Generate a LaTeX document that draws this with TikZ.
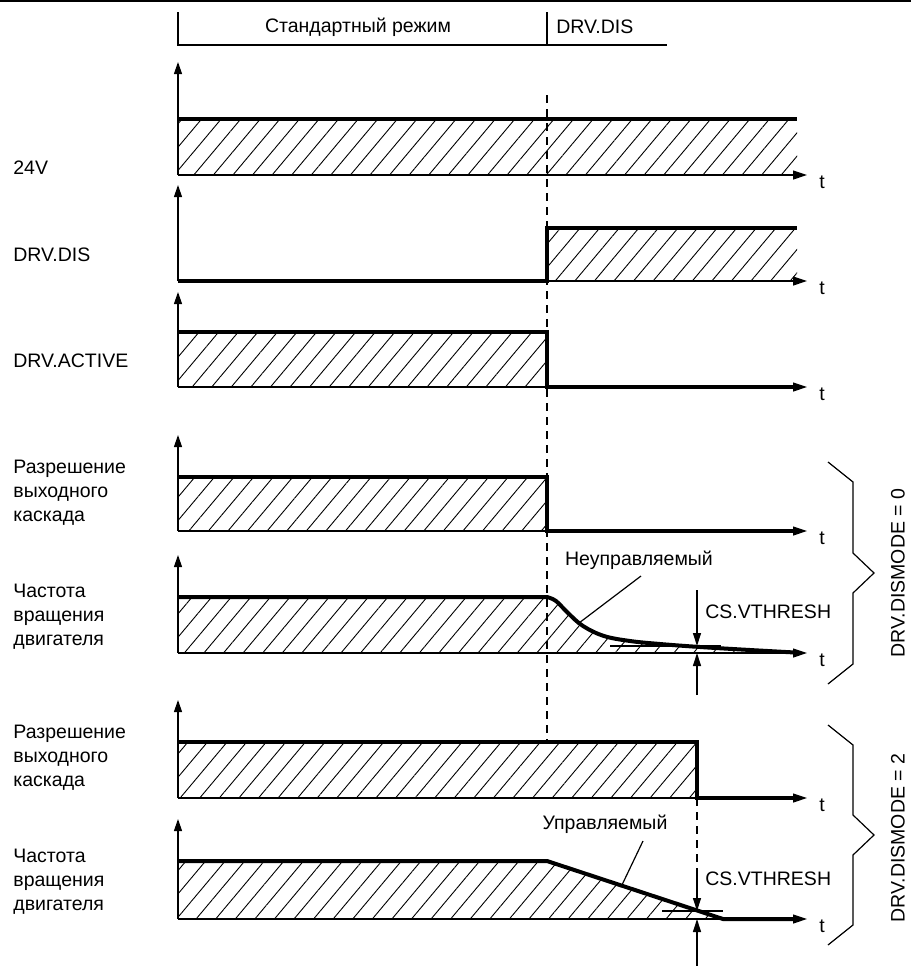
\documentclass[tikz,border=0pt]{standalone}
\usepackage{fontspec}
\setmainfont{Liberation Sans}
\usetikzlibrary{arrows.meta,patterns.meta}
\tikzset{
  lbl/.style={font=\fontsize{9.75}{12}\selectfont,inner sep=0pt,align=left},
  sig/.style={line width=2pt},
  rule/.style={line width=0.6pt},
  yaxis/.style={line width=0.6pt,-{Triangle[length=6pt,width=4pt]}},
  taxis/.style={line width=0.6pt,-{Triangle[length=7pt,width=4.5pt]}},
  vth/.style={line width=0.6pt,-{Triangle[length=6.5pt,width=4pt]}},
  hatch/.style={pattern={Lines[angle=50,distance=7.5pt,line width=0.45pt]}},
  guide/.style={line width=0.6pt,dash pattern=on 4pt off 3pt},
  brace/.style={line width=0.6pt}
}
\begin{document}
\begin{tikzpicture}[x=0.5pt,y=-0.5pt]
\useasboundingbox (0,0) rectangle (911,966);
\draw[line width=1pt] (0,1) -- (911,1);
\draw[rule] (178,12) -- (178,45) -- (667,45);
\draw[rule] (547,12) -- (547,45);
\node[lbl] (mode) at (358,27) {Стандартный режим};
\node[lbl,anchor=west] (dishead) at (556,27) {DRV.DIS};
\draw[guide] (547,95) -- (547,742);
\node[lbl,anchor=west] (v24) at (13,168) {24V};
\fill[hatch] (178,119) rectangle (797,175);
\draw[yaxis] (178,175) -- (178,62);
\draw[taxis] (178,175) -- (807,175);
\draw[sig] (178,119) -- (797,119);
\node[lbl,anchor=base west] (t1) at (819,188) {t};
\node[lbl,anchor=west] (dis) at (13,255) {DRV.DIS};
\fill[hatch] (547,228) rectangle (797,281);
\draw[yaxis] (178,281) -- (178,185);
\draw[taxis] (178,281) -- (807,281);
\draw[sig] (178,281) -- (547,281) -- (547,228) -- (797,228);
\node[lbl,anchor=base west] (t2) at (819,294) {t};
\node[lbl,anchor=west] (act) at (13,361) {DRV.ACTIVE};
\fill[hatch] (178,332) rectangle (547,387);
\draw[yaxis] (178,387) -- (178,292);
\draw[taxis] (178,387) -- (807,387);
\draw[sig] (178,332) -- (547,332) -- (547,387) -- (795,387);
\node[lbl,anchor=base west] (t3) at (819,400) {t};
\node[lbl,anchor=west] (en1) at (13,493) {Разрешение\\выходного\\каскада};
\fill[hatch] (178,477) rectangle (547,531);
\draw[yaxis] (178,531) -- (178,435);
\draw[taxis] (178,531) -- (807,531);
\draw[sig] (178,477) -- (547,477) -- (547,531) -- (795,531);
\node[lbl,anchor=base west] (t4) at (819,544) {t};
\node[lbl,anchor=west] (sp1) at (13,617) {Частота\\вращения\\двигателя};
\fill[hatch] (178,597) -- plot[smooth,tension=0.6] coordinates {(547,597) (556,601) (568,613) (583,626) (604,636) (630,641) (660,644) (700,647) (750,650) (795,652.5)} -- (178,653) -- cycle;
\draw[yaxis] (178,653) -- (178,555);
\draw[taxis] (178,653) -- (807,653);
\draw[sig] (178,597) -- plot[smooth,tension=0.6] coordinates {(547,597) (556,601) (568,613) (583,626) (604,636) (630,641) (660,644) (700,647) (750,650) (795,652.5)};
\node[lbl,anchor=base west] (t5) at (819,666) {t};
\draw[rule] (610,646) -- (721,646);
\node[lbl] (unctl) at (639,560) {Неуправляемый};
\draw[rule] (641,576) -- (579,623);
\draw[vth] (697,590) -- (697,646);
\draw[vth] (697,695) -- (697,653);
\node[lbl,anchor=west] (vth1) at (705,612) {CS.VTHRESH};
\node[lbl,anchor=west] (en2) at (13,758) {Разрешение\\выходного\\каскада};
\fill[hatch] (178,742) rectangle (697,798);
\draw[yaxis] (178,798) -- (178,700);
\draw[taxis] (178,798) -- (807,798);
\draw[sig] (178,742) -- (697,742) -- (697,798) -- (795,798);
\node[lbl,anchor=base west] (t6) at (819,811) {t};
\node[lbl,anchor=west] (sp2) at (13,882) {Частота\\вращения\\двигателя};
\fill[hatch] (178,861) -- (547,861) -- (723,919) -- (178,919) -- cycle;
\draw[yaxis] (178,919) -- (178,819);
\draw[taxis] (178,919) -- (807,919);
\draw[sig] (178,861) -- (547,861) -- (723,919) -- (795,919);
\node[lbl,anchor=base west] (t7) at (819,932) {t};
\draw[rule] (662,911) -- (723,911);
\node[lbl] (ctl) at (605,824) {Управляемый};
\draw[rule] (643,841) -- (621,887);
\draw[guide] (697,798) -- (697,870);
\draw[vth] (697,870) -- (697,911);
\draw[vth] (697,966) -- (697,919);
\node[lbl,anchor=west] (vth2) at (705,879) {CS.VTHRESH};
\draw[brace] (828,462) -- (853,482) -- (853,553) -- (874,573) -- (853,593) -- (853,664) -- (828,684);
\node[lbl,rotate=90] (mode0) at (898,573) {DRV.DISMODE = 0};
\draw[brace] (828,725) -- (853,745) -- (853,815) -- (874,835) -- (853,855) -- (853,925) -- (828,945);
\node[lbl,rotate=90] (mode2) at (898,838) {DRV.DISMODE = 2};
\end{tikzpicture}
\end{document}
